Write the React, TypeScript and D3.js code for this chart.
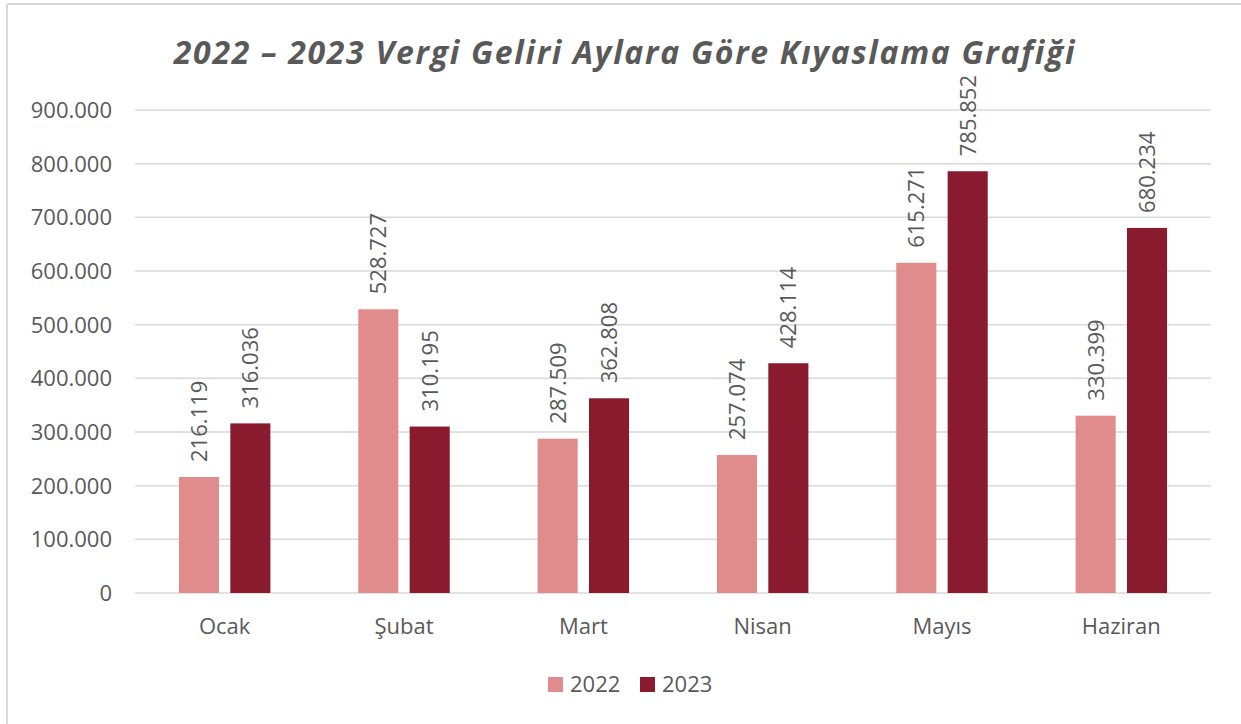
import React from "react";
import * as d3 from "d3";

const months = ["Ocak", "Şubat", "Mart", "Nisan", "Mayıs", "Haziran"];
const seriesNames = ["2022", "2023"];
const values2022 = [216119, 528727, 287509, 257074, 615271, 330399];
const values2023 = [316036, 310195, 362808, 428114, 785852, 680234];
const yTicks = [0, 100000, 200000, 300000, 400000, 500000, 600000, 700000, 800000, 900000];
const colors = ["#E08C8D", "#8A1A2D"];

const W = 1241;
const H = 724;
const FONT = "'Open Sans', 'Noto Sans', sans-serif";
const TEXT = "#595959";

const fmt = (v: number) => (v === 0 ? "0" : d3.format(",")(v).replace(/,/g, "."));

export default function App() {
  const left = 135;
  const right = 1211;
  const top = 110;
  const bottom = 593;

  const x0 = d3.scaleBand<string>().domain(months).range([left, right]).paddingInner(0.49).paddingOuter(0.245);
  const x1 = d3.scaleBand<string>().domain(seriesNames).range([0, x0.bandwidth()]).paddingInner(0.22);
  const y = d3.scaleLinear().domain([0, 900000]).range([bottom, top]);

  const series = [values2022, values2023];

  return (
    <svg width={W} height={H} style={{ position: "absolute", left: 0, top: 0, background: "#fff" }} fontFamily={FONT}>
      <rect x={0} y={0} width={W} height={H} fill="#fff" />
      <line x1={7} y1={4} x2={W} y2={4} stroke="#d9d9d9" strokeWidth={2} />
      <line x1={7} y1={4} x2={7} y2={H} stroke="#d9d9d9" strokeWidth={2} />
      <text x={625} y={64} textAnchor="middle" fontSize={32} fontWeight="bold" fontStyle="italic" letterSpacing={1.7} fill={TEXT}>
        2022 – 2023 Vergi Geliri Aylara Göre Kıyaslama Grafiği
      </text>
      {yTicks.map((t) => (
        <g key={t}>
          <line x1={left} x2={right} y1={y(t)} y2={y(t)} stroke="#d9d9d9" strokeWidth={1.5} />
          <text x={112} y={y(t)} dy="0.36em" textAnchor="end" fontSize={22} fill={TEXT}>
            {fmt(t)}
          </text>
        </g>
      ))}
      {months.map((m, i) => (
        <g key={m}>
          {series.map((vals, s) => {
            const bx = (x0(m) as number) + (x1(seriesNames[s]) as number);
            const bw = x1.bandwidth();
            const by = y(vals[i]);
            const cx = bx + bw / 2;
            const ly = by - 15;
            return (
              <g key={s}>
                <rect x={bx} y={by} width={bw} height={bottom - by} fill={colors[s]} />
                <text
                  transform={`translate(${cx},${ly}) rotate(-90)`}
                  dy="0.36em"
                  textAnchor="start"
                  fontSize={22}
                  fill={TEXT}
                >
                  {fmt(vals[i])}
                </text>
              </g>
            );
          })}
          <text x={(x0(m) as number) + x0.bandwidth() / 2} y={634} textAnchor="middle" fontSize={22} fill={TEXT}>
            {m}
          </text>
        </g>
      ))}
      {seriesNames.map((n, s) => {
        const lx = 548 + s * 92;
        return (
          <g key={n}>
            <rect x={lx} y={677} width={15} height={15} fill={colors[s]} />
            <text x={lx + 22} y={692} fontSize={22} fill={TEXT}>
              {n}
            </text>
          </g>
        );
      })}
    </svg>
  );
}
